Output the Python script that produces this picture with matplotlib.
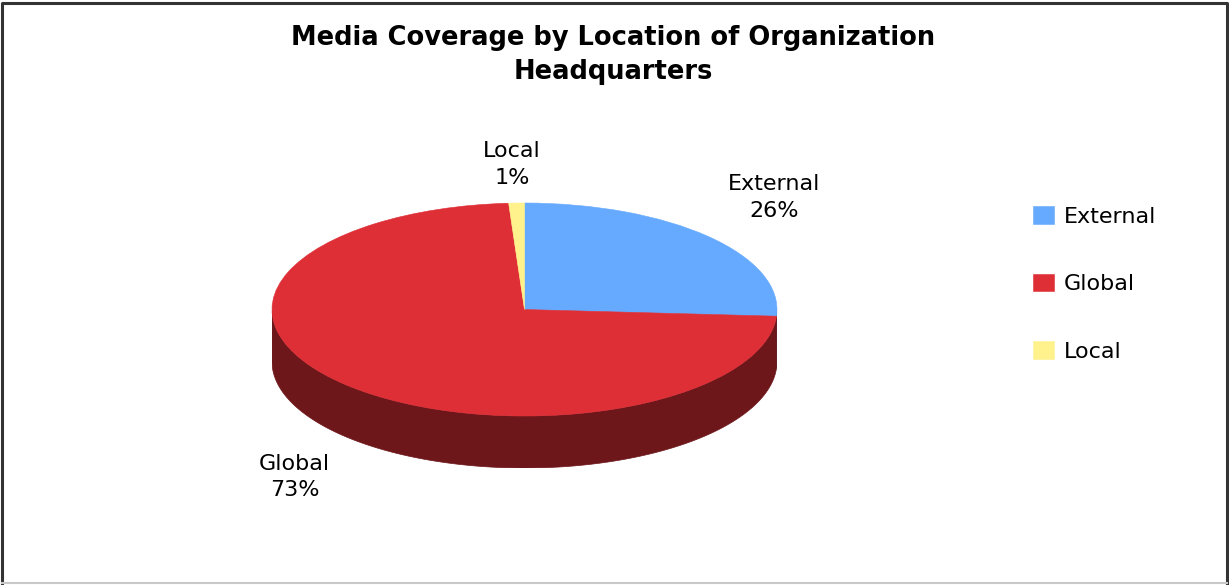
import numpy as np
import matplotlib
matplotlib.use("Agg")
import matplotlib.pyplot as plt
from matplotlib.patches import Polygon
from matplotlib.lines import Line2D

# Data
categories = ["External", "Global", "Local"]
shares = [26, 73, 1]

# Style
top_colors = ["#66AAFF", "#DE2E36", "#FFF28C"]
side_colors = ["#2F4F7A", "#6E171B", "#7F7846"]
title = "Media Coverage by Location of Organization\nHeadquarters"

# label anchor points in pie-radius units (x, y)
label_xy = {"External": (0.99, 1.05), "Global": (-0.91, -1.57), "Local": (-0.05, 1.36)}

W, H = 1229, 585
fig = plt.figure(figsize=(W / 100, H / 100), dpi=100)
fig.patch.set_facecolor("white")

# pie axes: unit circle squashed into an ellipse, with room below for the rim
depth = 0.488
ax = fig.add_axes([272 / W, (H - 468) / H, 505 / W, 265 / H])

# rim (side faces) of the tilted pie, only the front half is visible
frac = np.array(shares, dtype=float) / np.sum(shares)
bounds = 90 - 360 * np.concatenate([[0], np.cumsum(frac)])
for i, cat in enumerate(categories):
    t = np.radians(np.linspace(bounds[i + 1], bounds[i], 400))
    t = t[np.sin(t) <= 1e-9]
    if len(t) < 2:
        continue
    top = np.column_stack([np.cos(t), np.sin(t)])
    bot = np.column_stack([np.cos(t[::-1]), np.sin(t[::-1]) - depth])
    ax.add_patch(Polygon(np.vstack([top, bot]), closed=True,
                         facecolor=side_colors[i], edgecolor=side_colors[i],
                         linewidth=0.5, zorder=1))

wedges, _ = ax.pie(shares, colors=top_colors, startangle=90, counterclock=False,
                   radius=1.0, wedgeprops=dict(linewidth=0.4, edgecolor="white"))
for w in wedges:
    w.set_zorder(2)
    w.set_edgecolor(w.get_facecolor())

ax.set_aspect("auto")
ax.set_xlim(-1, 1)
ax.set_ylim(-1 - depth, 1)
ax.axis("off")

# data labels
for cat, val in zip(categories, shares):
    x, y = label_xy[cat]
    ax.text(x, y, f"{cat}\n{val}%", ha="center", va="center", fontsize=16,
            family="DejaVu Sans", linespacing=1.4, color="black", clip_on=False)

# title
fig.text(613.5 / W, 1 - 55 / H, title, ha="center", va="center", fontsize=18.5,
         fontweight="bold", family="DejaVu Sans", linespacing=1.42)

# legend
fig.legend(handles=wedges, labels=categories, loc="center left",
           bbox_to_anchor=(1033 / W, 1 - 284 / H), frameon=False,
           prop=dict(family="DejaVu Sans", size=16),
           handlelength=0.95, handleheight=0.85, handletextpad=0.45,
           labelspacing=2.12, borderpad=0, borderaxespad=0)

# chart frame
fig.add_artist(Line2D([1.5 / W, 1.5 / W, 1226.5 / W, 1226.5 / W],
                      [1 - 583 / H, 1 - 2.5 / H, 1 - 2.5 / H, 1 - 583 / H],
                      transform=fig.transFigure, color="#333333", linewidth=2.2))
fig.add_artist(Line2D([1.5 / W, 1226.5 / W], [1 - 583 / H, 1 - 583 / H],
                      transform=fig.transFigure, color="#C8C8C8", linewidth=1.5))

fig.savefig("out.png", dpi=100)
